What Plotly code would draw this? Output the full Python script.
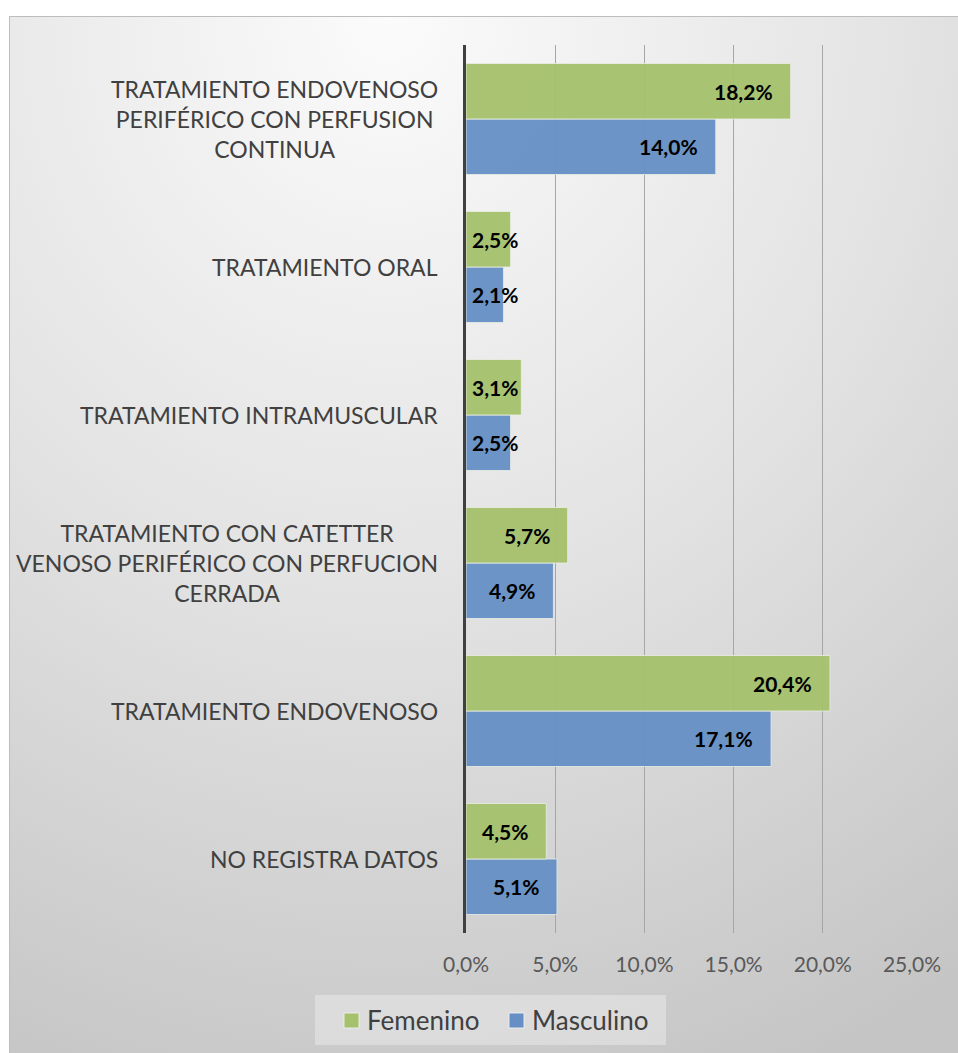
import base64
import plotly.graph_objects as go

# Categories, listed from top to bottom as they appear on the chart
categorias = [
    "TRATAMIENTO ENDOVENOSO<br>PERIFÉRICO CON PERFUSION<br>CONTINUA",
    "TRATAMIENTO ORAL",
    "TRATAMIENTO INTRAMUSCULAR",
    "TRATAMIENTO CON CATETTER<br>VENOSO PERIFÉRICO CON PERFUCION<br>CERRADA",
    "TRATAMIENTO ENDOVENOSO",
    "NO REGISTRA DATOS",
]
femenino = [18.2, 2.5, 3.1, 5.7, 20.4, 4.5]
masculino = [14.0, 2.1, 2.5, 4.9, 17.1, 5.1]
ticks = [0, 5, 10, 15, 20, 25]
tick_text = ["0,0%", "5,0%", "10,0%", "15,0%", "20,0%", "25,0%"]

VERDE = "#a5c16c"
AZUL = "#6690c5"
FONT = "Lato"

W, H = 958, 1053
# plot area in pixels
PL, PR, PT, PB = 466, 912, 45, 933
pw, ph = PR - PL, PB - PT


def px_x(x):
    return (x - PL) / pw


def px_y(y):
    return (PB - y) / ph


def etiqueta(v):
    return f"{v:.1f}".replace(".", ",") + "%"


fig = go.Figure()
for nombre, vals, color in [("Masculino", masculino, AZUL), ("Femenino", femenino, VERDE)]:
    fig.add_trace(go.Bar(
        name=nombre, y=categorias, x=vals, orientation="h",
        marker=dict(color=color, line=dict(color="rgba(235,240,230,0.8)", width=1)),
        opacity=0.95, hoverinfo="skip", showlegend=False,
    ))

# value labels, bold, inside the end of each bar
anns = []
half = ph / len(categorias) * 0.75 / 4  # quarter of the group height
for vals, shift in [(femenino, half), (masculino, -half)]:
    for cat, v in zip(categorias, vals):
        if v < 4.0:
            a = dict(x=0, xanchor="left", xshift=4)
        else:
            a = dict(x=v, xanchor="right", xshift=-16)
        anns.append(dict(
            a, y=cat, yref="y", xref="x", yshift=shift, yanchor="middle",
            text=f"<b>{etiqueta(v)}</b>", showarrow=False,
            font=dict(family=FONT, size=21, color="#000000"),
        ))

# category labels, right aligned block with centred lines
for cat in categorias:
    anns.append(dict(
        x=px_x(440), xref="paper", xanchor="right", y=cat, yref="y",
        yanchor="middle", align="center", text=cat, showarrow=False,
        font=dict(family=FONT, size=23, color="#404040"),
    ))

# legend drawn as a box with swatches and names
shapes = [dict(
    type="rect", xref="paper", yref="paper", layer="above",
    x0=px_x(315), x1=px_x(666), y0=px_y(1045), y1=px_y(995),
    line=dict(width=0), fillcolor="rgba(240,240,240,0.45)",
)]
for nombre, color, sx, tx in [("Femenino", VERDE, 344, 365), ("Masculino", AZUL, 509, 530)]:
    shapes.append(dict(
        type="rect", xref="paper", yref="paper", layer="above",
        x0=px_x(sx), x1=px_x(sx + 15), y0=px_y(1028), y1=px_y(1013),
        line=dict(color="rgba(240,240,240,0.9)", width=1), fillcolor=color,
    ))
    anns.append(dict(
        x=px_x(tx), xref="paper", xanchor="left", y=px_y(1020), yref="paper",
        yanchor="middle", text=nombre, showarrow=False,
        font=dict(family=FONT, size=26, color="#404040"),
    ))

# outer border of the chart area (left and top edges visible)
shapes.append(dict(
    type="rect", xref="paper", yref="paper", layer="below",
    x0=px_x(9.5), x1=px_x(W + 10), y0=px_y(H + 10), y1=px_y(16.5),
    line=dict(color="#bdbdbd", width=1), fillcolor="rgba(0,0,0,0)",
))

# chart-area background: soft radial gradient
svg = """<svg xmlns='http://www.w3.org/2000/svg' width='949' height='1037' viewBox='0 0 949 1037' preserveAspectRatio='none'>
<defs><radialGradient id='g' cx='0.4' cy='0' r='1.1' fx='0.4' fy='0'>
<stop offset='0' stop-color='#fbfbfb'/>
<stop offset='0.5' stop-color='#e3e3e3'/>
<stop offset='1' stop-color='#c5c5c5'/>
</radialGradient></defs>
<rect width='949' height='1037' fill='url(#g)'/></svg>"""
src = "data:image/svg+xml;base64," + base64.b64encode(svg.encode()).decode()

fig.update_layout(
    width=W, height=H,
    margin=dict(l=PL, r=W - PR, t=PT, b=H - PB, pad=0),
    paper_bgcolor="white", plot_bgcolor="rgba(0,0,0,0)",
    barmode="group", bargap=0.25, bargroupgap=0,
    showlegend=False,
    images=[dict(
        source=src, xref="paper", yref="paper",
        x=px_x(9), y=px_y(16), sizex=(W - 9) / pw, sizey=(H - 16) / ph,
        xanchor="left", yanchor="top", sizing="stretch", layer="below",
    )],
    shapes=shapes,
    annotations=anns,
    xaxis=dict(
        range=[0, 25], tickvals=ticks, ticktext=tick_text,
        showgrid=True, gridcolor="#a6a6a6", gridwidth=1,
        zeroline=False, showline=False, ticks="",
        tickfont=dict(family=FONT, size=21, color="#595959"),
        ticklabelstandoff=17, fixedrange=True,
    ),
    yaxis=dict(
        categoryorder="array", categoryarray=categorias[::-1],
        showticklabels=False, showgrid=False, zeroline=False,
        showline=True, linecolor="#404040", linewidth=3, ticks="",
        fixedrange=True,
    ),
)

fig.write_html("out.html")
